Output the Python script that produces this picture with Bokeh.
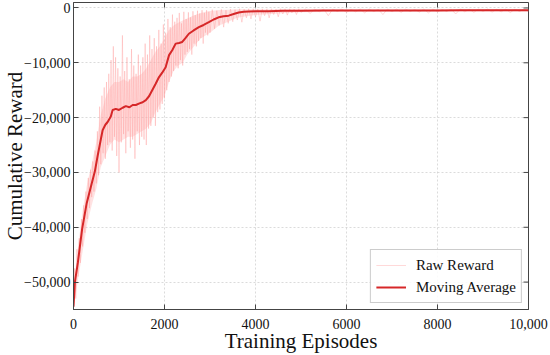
import math
from bokeh.plotting import figure
from bokeh.models import FixedTicker, Range1d, Legend, LegendItem
from bokeh.embed import file_html
from bokeh.resources import INLINE

# ---- data ----
ma_ep = [0, 30, 95, 190, 290, 400, 470, 530, 600, 640, 700, 750, 820, 860, 930, 1000,
         1080, 1150, 1230, 1300, 1370, 1450, 1520, 1590, 1660, 1730, 1800, 1880, 1950,
         2025, 2100, 2170, 2245, 2320, 2390, 2460, 2535, 2640, 2755, 2860, 2975, 3080,
         3190, 3300, 3410, 3520, 3630, 3740, 3850, 4070, 4290, 4600, 5000, 5500, 6000,
         6500, 7000, 7500, 8000, 8500, 9000, 9500, 10000]
ma_val = [-54500, -50000, -46500, -40300, -35600, -32000, -29800, -27000, -24000, -22300,
          -21300, -20800, -19800, -18600, -18400, -18600, -18200, -17900, -18100, -17700,
          -17700, -17400, -17200, -16800, -16100, -15000, -13900, -12600, -11800,
          -10800, -8600, -7700, -6500, -6400, -6200, -5500, -4700, -4100, -3500, -3100,
          -2600, -2100, -1700, -1500, -1400, -1100, -820, -700, -640, -580, -600, -520,
          -500, -480, -460, -470, -450, -440, -450, -430, -420, -420, -400]

raw_ep = list(range(0, 3000, 25)) + list(range(3000, 5000, 50)) + list(range(5000, 10001, 100))
raw_val = [
    # 0-475
    -52000, -47500, -53000, -44000, -49000, -42000, -46500, -38500, -43500, -36000,
    -41000, -33500, -38500, -31000, -36500, -29500, -34500, -28000, -33500, -26000,
    # 500-975
    -32000, -22500, -30500, -18000, -28500, -16000, -26500, -14500, -27500, -13500,
    -25000, -12000, -24500, -9500, -26000, -7000, -23500, -9000, -27000, -11000,
    # 1000-1475
    -30000, -12500, -24500, -5000, -23000, -11500, -26500, -9000, -22500, -13000,
    -25500, -7500, -24000, -10500, -27500, -12000, -22500, -8500, -25000, -10500,
    # 1500-1975
    -23500, -9000, -24000, -6500, -25000, -8500, -22000, -5000, -21500, -7500,
    -20000, -5500, -21500, -7000, -19000, -4000, -18500, -6500, -17500, -3000,
    # 2000-2475
    -16500, -4500, -15000, -2000, -13500, -3500, -12500, -1200, -11500, -2500,
    -10500, -1800, -11000, -900, -9500, -2800, -10500, -700, -8500, -2000,
    # 2500-2975
    -8000, -800, -7500, -1700, -8500, -600, -6500, -1300, -7000, -500,
    -6000, -1000, -5500, -400, -6500, -900, -4500, -400, -5000, -700,
    # 3000-4950
    -4500, -300, -3800, -500, -3200, -250, -3500, -400, -2800, -200,
    -2500, -300, -2200, -150, -2600, -200, -1800, -150, -2000, -150,
    -1600, -200, -2400, -150, -1400, -150, -1800, -150, -1200, -200,
    -1600, -150, -1100, -150, -1300, -150, -900, -200, -1200, -150,
    # 5000-10000
    -800, -200, -1000, -200, -700, -200, -1400, -200, -650, -200,
    -800, -250, -700, -200, -900, -200, -650, -250, -1200, -200,
    -700, -200, -800, -200, -650, -250, -750, -200, -900, -200,
    -700, -250, -650, -200, -1100, -200, -700, -250, -800, -200,
    -650, -200, -750, -250, -700, -200, -850, -200, -650, -250, -600,
]

# dense core of the raw-reward haze (upper / lower edge)
band_ep = [0, 100, 200, 300, 400, 500, 600, 700, 800, 900, 1000, 1100, 1200, 1300, 1400,
           1500, 1600, 1700, 1800, 1900, 2000, 2100, 2200, 2300, 2400, 2500, 2600, 2700,
           2800, 2900, 3000, 3200, 3400, 3600, 3800, 4000, 4500, 5000, 6000, 7000, 8000,
           9000, 10000]
band_hi = [-51000, -43500, -37000, -32000, -28500, -24500, -19500, -16500, -14500, -13500,
           -13500, -13000, -13500, -12500, -12500, -12000, -11000, -9500, -8000, -7000,
           -5500, -4000, -3200, -2700, -2300, -1900, -1500, -1200, -900, -700, -550, -350,
           -300, -250, -250, -250, -250, -250, -250, -250, -250, -250, -250]
band_lo = [-55000, -49500, -44500, -39500, -36000, -33000, -29000, -27000, -25000, -24000,
           -24500, -24000, -23500, -23500, -23000, -22500, -22000, -21000, -19000, -17500,
           -16000, -13500, -11500, -10500, -10000, -8500, -7500, -6500, -5500, -5000, -4500,
           -3200, -2500, -1800, -1500, -1300, -1000, -800, -700, -650, -650, -650, -650]

x_ticks = [0, 2000, 4000, 6000, 8000, 10000]
x_tick_labels = ["0", "2000", "4000", "6000", "8000", "10,000"]
y_ticks = [0, -10000, -20000, -30000, -40000, -50000]
y_tick_labels = ["0", "\u221210,000", "\u221220,000", "\u221230,000", "\u221240,000", "\u221250,000"]
x_lim = [0, 10000]
y_lim = [-55000, 1000]

FONT = "Liberation Serif"
TXT = "#111111"
FRAME = "#444444"

p = figure(width=550, height=355, output_backend="svg", toolbar_location=None,
           x_range=Range1d(*x_lim), y_range=Range1d(*y_lim),
           min_border_left=40, min_border_right=22, min_border_top=2, min_border_bottom=20)

p.varea(x=band_ep, y1=band_lo, y2=band_hi, fill_color="#ffb3b3", fill_alpha=0.38)
raw_r = p.line(raw_ep, raw_val, line_color="#ff9a9a", line_width=0.9, line_alpha=0.42)
ma_r = p.line(ma_ep, ma_val, line_color="#d62728", line_width=2)

p.xaxis.ticker = FixedTicker(ticks=x_ticks)
p.yaxis.ticker = FixedTicker(ticks=y_ticks)
p.xaxis.major_label_overrides = dict(zip(x_ticks, x_tick_labels))
p.yaxis.major_label_overrides = dict(zip(y_ticks, y_tick_labels))

for ax in (p.xaxis[0], p.yaxis[0]):
    ax.major_tick_in = 5
    ax.major_tick_out = 0
    ax.minor_tick_in = 0
    ax.minor_tick_out = 0
    ax.axis_line_color = FRAME
    ax.major_tick_line_color = FRAME
    ax.major_label_text_font = FONT
    ax.major_label_text_font_size = "14px"
    ax.major_label_text_color = TXT
    ax.axis_label_text_font = FONT
    ax.axis_label_text_font_size = "21px"
    ax.axis_label_text_font_style = "normal"
    ax.axis_label_text_color = TXT

p.xaxis.axis_label = "Training Episodes"
p.yaxis.axis_label = "Cumulative Reward"
p.xaxis.major_label_standoff = 9
p.yaxis.major_label_standoff = 3
p.xaxis.axis_label_standoff = -3
p.yaxis.axis_label_standoff = -6

# inward ticks on the top and right edges of the frame
p.ray(x=x_ticks, y=y_lim[1], length=5, length_units="screen", angle=-math.pi / 2,
      line_color=FRAME, line_width=1)
p.ray(x=x_lim[1], y=y_ticks, length=5, length_units="screen", angle=math.pi,
      line_color=FRAME, line_width=1)

p.xgrid.ticker = FixedTicker(ticks=x_ticks)
p.ygrid.ticker = FixedTicker(ticks=y_ticks)
for g in (p.xgrid[0], p.ygrid[0]):
    g.grid_line_color = "#cccccc"
    g.grid_line_dash = "2 2"
    g.grid_line_alpha = 0.7

p.outline_line_color = FRAME
p.outline_line_width = 1

legend = Legend(items=[LegendItem(label="Raw Reward", renderers=[raw_r]),
                       LegendItem(label="Moving Average", renderers=[ma_r])],
                location="bottom_right", label_text_font=FONT, label_text_font_size="15px",
                label_text_color=TXT, border_line_color="#999999", border_line_width=1,
                background_fill_alpha=0.85, glyph_width=30, label_standoff=10,
                spacing=2, padding=5, margin=6)
p.add_layout(legend)

open("out.html", "w").write(file_html(p, INLINE))
